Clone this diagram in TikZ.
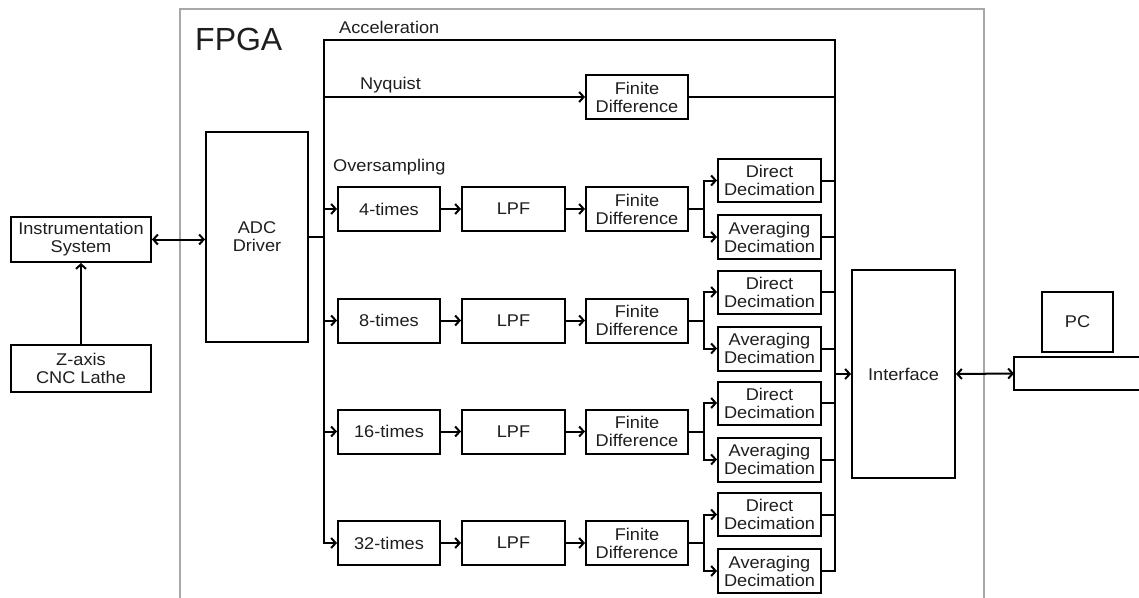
\documentclass[tikz,border=0pt]{standalone}
\usepackage{fontspec}
\setmainfont{Liberation Sans}[FakeStretch=1.07]
\newfontfamily\plainfont{Liberation Sans}
\usetikzlibrary{arrows.meta}
\definecolor{fpgagray}{HTML}{A8A8A8}
\definecolor{txt}{HTML}{1E1E1E}
\tikzset{
  blk/.style={draw=black, line width=2pt, inner sep=0pt, align=center,
    text=txt, font=\fontsize{17}{18}\selectfont},
  wire/.style={line width=2pt, draw=black},
  arr/.style={wire, -{Straight Barb[length=4.5pt,width=10pt]}},
  darr/.style={wire, {Straight Barb[length=4.5pt,width=10pt]}-{Straight Barb[length=4.5pt,width=10pt]}},
  lbl/.style={anchor=base west, inner sep=0pt, text=txt, font=\fontsize{17}{18}\selectfont},
}
\begin{document}
\begin{tikzpicture}[x=1pt,y=-1pt]
\useasboundingbox (0,0) rectangle (1139,597);
% FPGA frame
\draw[fpgagray, line width=1.5pt] (180,600) -- (180,9) -- (984,9) -- (984,600);
\node[anchor=base west, inner sep=0pt, text=txt, font=\plainfont\fontsize{32}{34}\selectfont] (fpga) at (195,50) {FPGA};
% left side
\node[blk, minimum width=140pt, minimum height=45pt] (instr) at (81,239.5) {Instrumentation\\System};
\node[blk, minimum width=140pt, minimum height=47pt] (zaxis) at (81,368.5) {Z-axis\\CNC Lathe};
\node[blk, minimum width=102pt, minimum height=210pt] (adc) at (257,237) {ADC\\Driver};
% coordinates of buses
\coordinate (busTop) at (324,40);
\coordinate (accEnd) at (835,40);
% labels
\node[lbl] (lacc) at (339,33) {Acceleration};
\node[lbl] (lnyq) at (360,89) {Nyquist};
\node[lbl] (lover) at (333,171) {Oversampling};
% Nyquist FD
\node[blk, minimum width=102pt, minimum height=44pt] (nfd) at (637,97) {Finite\\Difference};
% rows
\foreach \i/\y/\t in {1/209/4-times, 2/320.5/8-times, 3/431.5/16-times, 4/543/32-times}{
  \node[blk, minimum width=102pt, minimum height=44pt] (t\i) at (389,\y) {\t};
  \node[blk, minimum width=103pt, minimum height=44pt] (l\i) at (513.5,\y) {LPF};
  \node[blk, minimum width=102pt, minimum height=44pt] (f\i) at (637,\y) {Finite\\Difference};
  \node[blk, minimum width=103pt, minimum height=43pt] (dd\i) at (769.5,\y-28.5) {Direct\\Decimation};
  \node[blk, minimum width=103pt, minimum height=44pt] (ad\i) at (769.5,\y+28) {Averaging\\Decimation};
}
% right side
\node[blk, minimum width=103pt, minimum height=208pt] (iface) at (903.5,374) {Interface};
\node[blk, minimum width=71pt, minimum height=60pt] (pc) at (1077.5,322) {PC};
\coordinate (bar) at (1014,373.5);
\draw[wire] (1145,357) -- (1014,357) -- (1014,390) -- (1145,390);
% connectors left
\draw[arr] (zaxis.north) -- (instr.south);
\draw[darr] (instr.east) -- (instr.east -| adc.west);
\draw[wire] (adc.east) -- (adc.east -| busTop);
% main buses (right bus, acceleration line, left bus to 32-times)
\draw[arr] (ad4.east) -| (accEnd) -- (busTop) |- (t4.west);
% Nyquist
\draw[arr] (busTop |- nfd.west) -- (nfd.west);
\draw[wire] (nfd.east) -- (nfd.east -| accEnd);
% rows
\foreach \i in {1,2,3}{
  \draw[arr] (busTop |- t\i.west) -- (t\i.west);
}
\foreach \i in {1,2,3,4}{
  \draw[arr] (t\i.east) -- (l\i.west);
  \draw[arr] (l\i.east) -- (f\i.west);
  \draw[arr] (f\i.east) -- ++(15,0) |- (dd\i.west);
  \draw[arr] (f\i.east) -- ++(15,0) |- (ad\i.west);
  \draw[wire] (dd\i.east) -- (dd\i.east -| accEnd);
}
\foreach \i in {1,2,3}{
  \draw[wire] (ad\i.east) -- (ad\i.east -| accEnd);
}
% interface
\draw[arr] (accEnd |- iface.west) -- (iface.west);
\draw[darr] (iface.east) -- (bar);
\end{tikzpicture}
\end{document}
